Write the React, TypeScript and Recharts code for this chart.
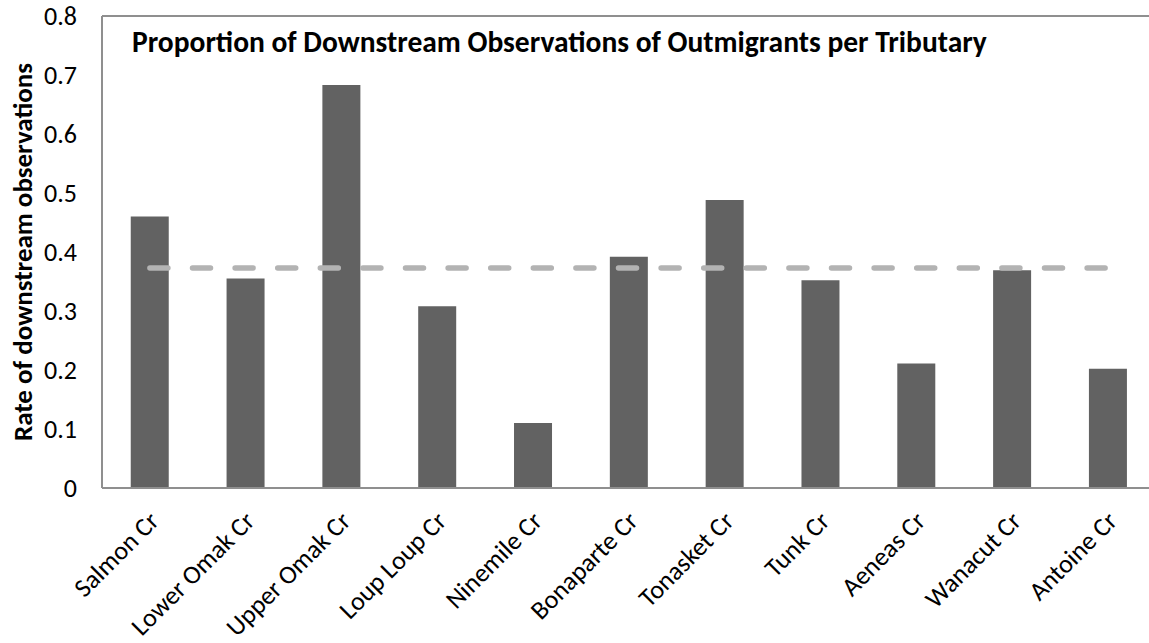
import { ComposedChart, Bar, Line, XAxis, YAxis, ReferenceLine, Label } from 'recharts';

const tributaries = [
  'Salmon Cr', 'Lower Omak Cr', 'Upper Omak Cr', 'Loup Loup Cr', 'Ninemile Cr', 'Bonaparte Cr',
  'Tonasket Cr', 'Tunk Cr', 'Aeneas Cr', 'Wanacut Cr', 'Antoine Cr',
];
const downstreamRate = [0.460, 0.355, 0.683, 0.308, 0.110, 0.392, 0.488, 0.352, 0.211, 0.369, 0.202];
const overallRate = 0.373;
const yTicks = [0, 0.1, 0.2, 0.3, 0.4, 0.5, 0.6, 0.7, 0.8];

const FONT = 'Carlito, Calibri, Lato, "Open Sans", sans-serif';
const AXIS = '#8f8f8f';

const chartData = tributaries.map((name, i) => ({
  name,
  rate: downstreamRate[i],
  overall: overallRate,
}));

function XTick({ x, y, payload }: any) {
  const ax = x + 5;
  const ay = y + 29;
  return (
    <text x={ax} y={ay} dy="0.3em" textAnchor="end" transform={`rotate(-45, ${ax}, ${ay})`}
      fontFamily={FONT} fontSize={26} fill="#000">
      {payload.value}
    </text>
  );
}

function YTick({ x, y, payload }: any) {
  return (
    <text x={x - 25} y={y} dy="0.35em" textAnchor="end" fontFamily={FONT} fontSize={26} fill="#000">
      {String(payload.value)}
    </text>
  );
}

function YTitle({ viewBox }: any) {
  const cy = viewBox.y + viewBox.height / 2;
  return (
    <text x={22} y={cy} transform={`rotate(-90, 22, ${cy})`} textAnchor="middle" dominantBaseline="central"
      fontFamily={FONT} fontSize={27} fontWeight="bold" fill="#000">
      Rate of downstream observations
    </text>
  );
}

export default function App() {
  return (
    <div style={{ position: 'fixed', left: 0, top: 0, width: 1149, height: 643, overflow: 'hidden', background: '#fff' }}>
      <ComposedChart width={1160} height={643} data={chartData} barCategoryGap="30%"
        margin={{ top: 16, right: 4, left: 0, bottom: 0 }}>
        <XAxis dataKey="name" height={155} interval={0} tick={<XTick />} tickLine={false} tickSize={0} tickMargin={0}
          axisLine={{ stroke: AXIS, strokeWidth: 2 }} />
        <YAxis width={102} domain={[0, 0.8]} ticks={yTicks} tickLine={false} tickSize={0} tickMargin={0}
          axisLine={{ stroke: AXIS, strokeWidth: 2 }} tick={<YTick />}>
          <Label content={<YTitle />} />
        </YAxis>
        <ReferenceLine y={0.8} stroke={AXIS} strokeWidth={2} />
        <Bar dataKey="rate" fill="#626262" isAnimationActive={false} />
        <Line dataKey="overall" stroke="#b3b3b3" strokeWidth={5.5} strokeDasharray="18 24.6" strokeLinecap="round"
          dot={false} activeDot={false} isAnimationActive={false} />
      </ComposedChart>
      <div style={{ position: 'absolute', left: 132, top: 27, fontFamily: FONT, fontSize: 29.5, fontWeight: 'bold',
        lineHeight: '30px', color: '#000', whiteSpace: 'nowrap' }}>
        Proportion of Downstream Observations of Outmigrants per Tributary
      </div>
    </div>
  );
}
